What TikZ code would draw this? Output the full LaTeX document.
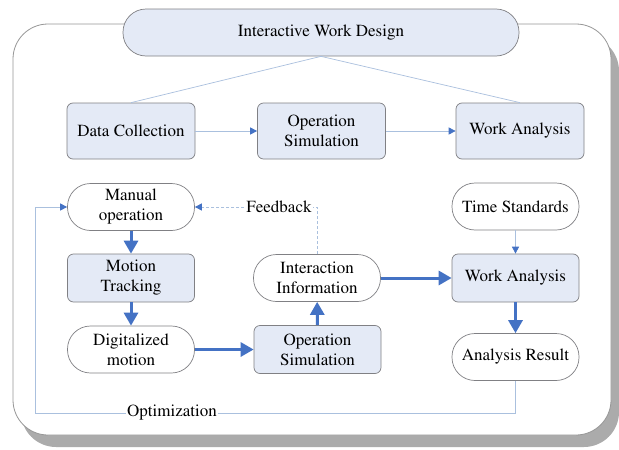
\documentclass[tikz,border=0pt]{standalone}
\usepackage[T1]{fontenc}
\usepackage{mathptmx}
\usetikzlibrary{arrows.meta}

\begin{document}
\begin{tikzpicture}[x=1pt, y=-1pt,
    box/.style={rectangle, rounded corners=6pt, draw=boxline, fill=boxfill, line width=0.7pt,
        minimum width=127pt, minimum height=48pt, align=center, inner sep=0pt,
        font=\fontsize{17}{20}\selectfont},
    topbox/.style={box, minimum width=128pt, minimum height=56pt},
    pill/.style={box, rounded corners=23pt, fill=white, minimum height=47pt},
    thinline/.style={draw=lineblue, line width=0.7pt},
    thinarrow/.style={thinline, -{Triangle[length=7pt, width=7pt, color=arrowblue]}},
    thickarrow/.style={draw=arrowblue, line width=3pt, -{Triangle[length=13pt, width=14pt]}},
    lbl/.style={fill=white, inner sep=1.5pt, font=\fontsize{17}{20}\selectfont}
]
    % Define colors
    \definecolor{boxfill}{RGB}{228,234,246}
    \definecolor{boxline}{RGB}{128,128,132}
    \definecolor{lineblue}{RGB}{170,192,222}
    \definecolor{arrowblue}{RGB}{68,114,196}
    \definecolor{framegray}{RGB}{150,150,150}

    \useasboundingbox (0,0) rectangle (619,450);

    % Frame with shadow
    \fill[black!33, rounded corners=35pt] (21,36) rectangle (619,447);
    \draw[framegray, fill=white, line width=0.8pt, rounded corners=35pt] (13,24) rectangle (611,435);

    % Title
    \node[box, minimum width=396pt, minimum height=47pt, rounded corners=23pt] (design) at (321,32.5) {Interactive Work Design};

    % Top row
    \node[topbox] (collect) at (131,131) {Data Collection};
    \node[topbox] (simtop) at (321.5,131) {Operation\\Simulation};
    \node[topbox] (worktop) at (520,131) {Work Analysis};

    \draw[thinline] (design.south) -- (collect.north);
    \draw[thinline] (design.south) -- (worktop.north);
    \draw[thinarrow] (collect) -- (simtop);
    \draw[thinarrow] (simtop) -- (worktop);

    % Left column
    \node[pill] (manual) at (131,207) {Manual\\operation};
    \node[box] (tracking) at (131,278) {Motion\\Tracking};
    \node[pill] (digital) at (131,349.5) {Digitalized\\motion};

    % Middle column
    \node[box] (simlow) at (317.5,349.5) {Operation\\Simulation};
    \node[pill] (inter) at (317,278) {Interaction\\Information};

    % Right column
    \node[pill] (standards) at (515.5,206.5) {Time Standards};
    \node[box] (work) at (515.5,278) {Work Analysis};
    \node[pill] (result) at (515.5,357) {Analysis Result};

    % Main flow
    \draw[thickarrow] (manual) -- (tracking);
    \draw[thickarrow] (tracking) -- (digital);
    \draw[thickarrow] (digital) -- (simlow);
    \draw[thickarrow] (simlow) -- (inter);
    \draw[thickarrow] (inter) -- (work);
    \draw[thickarrow] (work) -- (result);
    \draw[thinarrow] (standards) -- (work);

    % Feedback loop
    \draw[thinarrow, dash pattern=on 3pt off 2pt] (inter.north) |- (manual.east);
    \node[lbl] (feedback) at (279,207) {Feedback};

    % Optimization loop
    \coordinate (optcorner) at (35,413);
    \draw[thinarrow] (result.south) |- (optcorner) |- (manual.west);
    \node[lbl] (optimization) at (172,413) {Optimization};
\end{tikzpicture}
\end{document}
